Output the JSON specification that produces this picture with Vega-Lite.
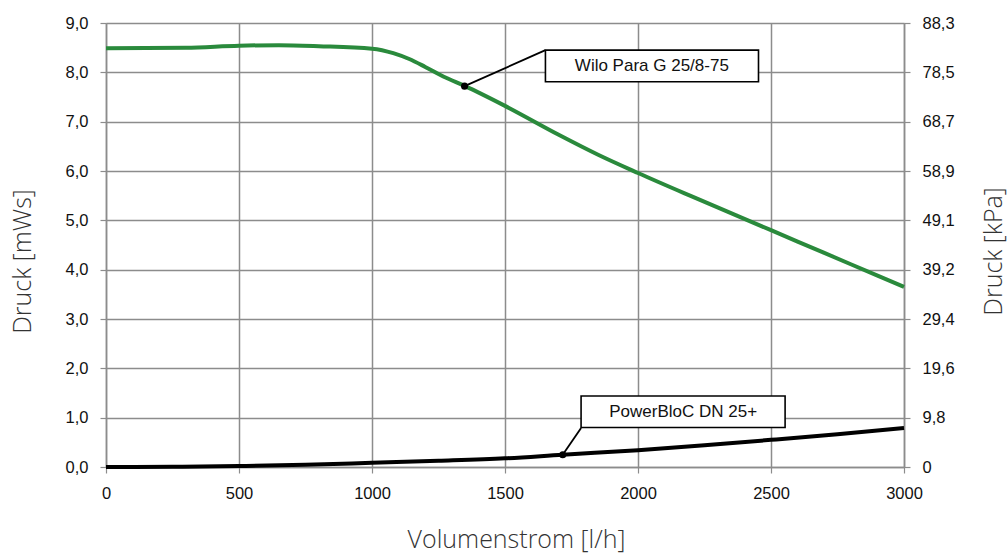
{
  "$schema": "https://vega.github.io/schema/vega-lite/v6.json",
  "width": 798,
  "height": 444,
  "autosize": {"type": "none"},
  "padding": {"left": 106, "top": 23, "right": 104, "bottom": 92},
  "background": "white",
  "config": {
    "view": {"stroke": null},
    "axis": {
      "labelFont": "Liberation Sans",
      "labelFontSize": 16.5,
      "labelColor": "#111111",
      "labelFlush": false,
      "labelOverlap": false,
      "gridColor": "#8c8c8c",
      "gridWidth": 1.5,
      "domainColor": "#8c8c8c",
      "domainWidth": 1.5,
      "tickColor": "#8c8c8c",
      "tickWidth": 1.2,
      "tickSize": 6,
      "labelPadding": 12,
      "titleFont": "Open Sans",
      "titleFontWeight": 300,
      "titleFontSize": 25,
      "titleColor": "#333333"
    }
  },
  "datasets": {
    "curves": [
      {"series": "Wilo Para G 25/8-75", "q": 0, "p": 8.49},
      {"series": "Wilo Para G 25/8-75", "q": 300, "p": 8.5},
      {"series": "Wilo Para G 25/8-75", "q": 500, "p": 8.54},
      {"series": "Wilo Para G 25/8-75", "q": 650, "p": 8.55},
      {"series": "Wilo Para G 25/8-75", "q": 800, "p": 8.53},
      {"series": "Wilo Para G 25/8-75", "q": 1000, "p": 8.48},
      {"series": "Wilo Para G 25/8-75", "q": 1080, "p": 8.39},
      {"series": "Wilo Para G 25/8-75", "q": 1140, "p": 8.27},
      {"series": "Wilo Para G 25/8-75", "q": 1200, "p": 8.11},
      {"series": "Wilo Para G 25/8-75", "q": 1270, "p": 7.91},
      {"series": "Wilo Para G 25/8-75", "q": 1350, "p": 7.72},
      {"series": "Wilo Para G 25/8-75", "q": 1500, "p": 7.32},
      {"series": "Wilo Para G 25/8-75", "q": 1700, "p": 6.74},
      {"series": "Wilo Para G 25/8-75", "q": 1850, "p": 6.33},
      {"series": "Wilo Para G 25/8-75", "q": 2000, "p": 5.96},
      {"series": "Wilo Para G 25/8-75", "q": 2200, "p": 5.49},
      {"series": "Wilo Para G 25/8-75", "q": 2400, "p": 5.03},
      {"series": "Wilo Para G 25/8-75", "q": 2600, "p": 4.57},
      {"series": "Wilo Para G 25/8-75", "q": 2800, "p": 4.11},
      {"series": "Wilo Para G 25/8-75", "q": 3000, "p": 3.65},
      {"series": "PowerBloC DN 25+", "q": 0, "p": 0.0},
      {"series": "PowerBloC DN 25+", "q": 250, "p": 0.005},
      {"series": "PowerBloC DN 25+", "q": 500, "p": 0.02},
      {"series": "PowerBloC DN 25+", "q": 750, "p": 0.045},
      {"series": "PowerBloC DN 25+", "q": 1000, "p": 0.085},
      {"series": "PowerBloC DN 25+", "q": 1250, "p": 0.125},
      {"series": "PowerBloC DN 25+", "q": 1500, "p": 0.175},
      {"series": "PowerBloC DN 25+", "q": 1717, "p": 0.25},
      {"series": "PowerBloC DN 25+", "q": 2000, "p": 0.34},
      {"series": "PowerBloC DN 25+", "q": 2250, "p": 0.44},
      {"series": "PowerBloC DN 25+", "q": 2500, "p": 0.55},
      {"series": "PowerBloC DN 25+", "q": 2750, "p": 0.665},
      {"series": "PowerBloC DN 25+", "q": 3000, "p": 0.79}
    ],
    "leaders": [
      {"series": "Wilo Para G 25/8-75", "q": 1348, "p": 7.72, "q2": 1652, "p2": 8.45},
      {"series": "PowerBloC DN 25+", "q": 1717, "p": 0.25, "q2": 1786, "p2": 0.79}
    ],
    "boxes": [
      {"label": "Wilo Para G 25/8-75", "q": 1652, "q2": 2453, "p": 7.81, "p2": 8.45, "qm": 2052, "pm": 8.13},
      {"label": "PowerBloC DN 25+", "q": 1786, "q2": 2553, "p": 0.8, "p2": 1.44, "qm": 2170, "pm": 1.12}
    ]
  },
  "layer": [
    {
      "data": {"name": "curves"},
      "mark": {"type": "line", "strokeWidth": 4, "interpolate": "monotone"},
      "encoding": {
        "x": {
          "field": "q", "type": "quantitative",
          "scale": {"domain": [0, 3000], "nice": false},
          "axis": {
            "values": [0, 500, 1000, 1500, 2000, 2500, 3000],
            "format": "d",
            "grid": true,
            "labelPadding": 12,
            "title": "Volumenstrom [l/h]",
            "titleX": 410,
            "titleY": 80,
            "titleAlign": "center",
            "titleBaseline": "alphabetic",
            "titleAnchor": null
          }
        },
        "y": {
          "field": "p", "type": "quantitative",
          "scale": {"domain": [0, 9], "nice": false},
          "axis": {
            "orient": "left",
            "values": [0, 1, 2, 3, 4, 5, 6, 7, 8, 9],
            "labelExpr": "replace(format(datum.value, '.1f'), '.', ',')",
            "grid": true,
            "title": "Druck [mWs]",
            "titleAngle": -90,
            "titleX": -84,
            "titleY": 238,
            "titleAlign": "center",
            "titleBaseline": "middle"
          }
        },
        "color": {
          "field": "series", "type": "nominal",
          "scale": {"domain": ["Wilo Para G 25/8-75", "PowerBloC DN 25+"], "range": ["#2a8a3c", "#000000"]},
          "legend": null
        }
      }
    },
    {
      "data": {"name": "leaders"},
      "mark": {"type": "rule", "color": "#000000", "strokeWidth": 1.8},
      "encoding": {
        "x": {"field": "q", "type": "quantitative"},
        "y": {"field": "p", "type": "quantitative", "scale": {"domain": [0, 9], "nice": false}, "axis": null},
        "x2": {"field": "q2"},
        "y2": {"field": "p2"}
      }
    },
    {
      "data": {"name": "leaders"},
      "mark": {"type": "point", "filled": true, "color": "#000000", "size": 50, "opacity": 1},
      "encoding": {
        "x": {"field": "q", "type": "quantitative"},
        "y": {"field": "p", "type": "quantitative", "scale": {"domain": [0, 9], "nice": false}, "axis": null}
      }
    },
    {
      "data": {"name": "boxes"},
      "mark": {"type": "rect", "fill": "white", "stroke": "#000000", "strokeWidth": 1.6},
      "encoding": {
        "x": {"field": "q", "type": "quantitative"},
        "x2": {"field": "q2"},
        "y": {"field": "p", "type": "quantitative", "scale": {"domain": [0, 9], "nice": false}, "axis": null},
        "y2": {"field": "p2"}
      }
    },
    {
      "data": {"name": "boxes"},
      "mark": {"type": "text", "font": "Liberation Sans", "fontSize": 17, "color": "#111111", "align": "center", "baseline": "middle"},
      "encoding": {
        "x": {"field": "qm", "type": "quantitative"},
        "y": {"field": "pm", "type": "quantitative", "scale": {"domain": [0, 9], "nice": false}, "axis": null},
        "text": {"field": "label"}
      }
    },
    {
      "data": {"name": "curves"},
      "mark": {"type": "point", "opacity": 0},
      "encoding": {
        "x": {"field": "q", "type": "quantitative"},
        "y": {
          "field": "p", "type": "quantitative",
          "scale": {"domain": [0, 9], "nice": false},
          "axis": {
            "orient": "right",
            "values": [0, 1, 2, 3, 4, 5, 6, 7, 8, 9],
            "labelExpr": "['0','9,8','19,6','29,4','39,2','49,1','58,9','68,7','78,5','88,3'][datum.value]",
            "grid": false,
            "title": "Druck [kPa]",
            "titleAngle": -90,
            "titleX": 89,
            "titleY": 228,
            "titleAlign": "center",
            "titleBaseline": "middle"
          }
        }
      }
    }
  ],
  "resolve": {"scale": {"y": "independent"}}
}
